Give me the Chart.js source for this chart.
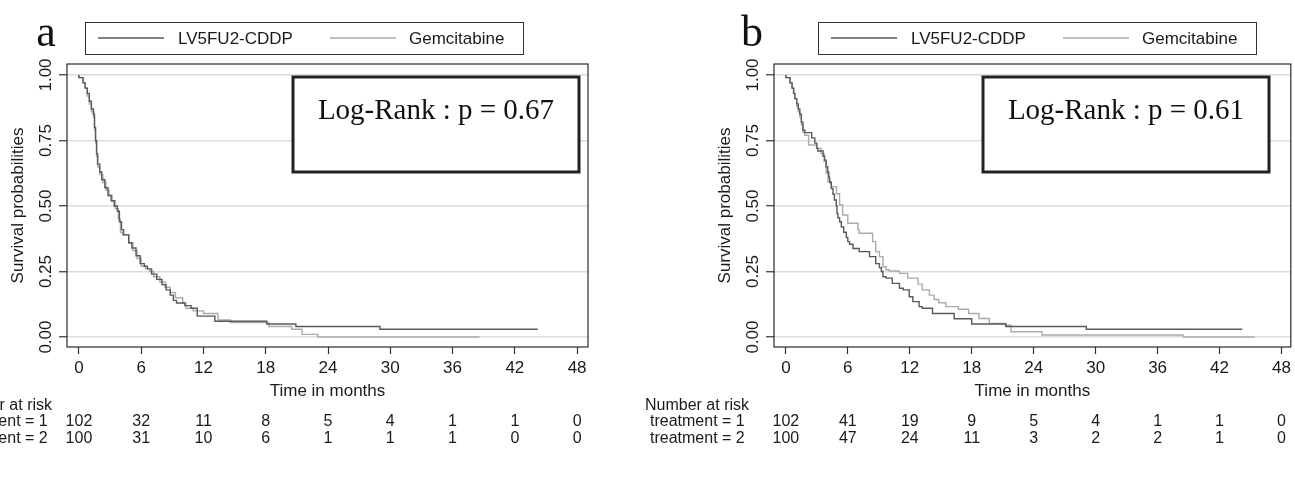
<!DOCTYPE html>
<html>
<head>
<meta charset="utf-8">
<script src="https://cdn.jsdelivr.net/npm/chart.js@4.4.1/dist/chart.umd.min.js"></script>
<style>
  html, body { margin: 0; padding: 0; background: #fff; }
  #wrap { position: relative; width: 1295px; height: 480px; overflow: hidden; }
  .panel { position: absolute; top: 0; height: 480px; }
  #panelA { left: 0; width: 620px; }
  #panelB { left: 620px; width: 675px; }
</style>
</head>
<body>
<div id="wrap">
  <div class="panel" id="panelA"><canvas id="chartA" width="620" height="480"></canvas></div>
  <div class="panel" id="panelB"><canvas id="chartB" width="675" height="480"></canvas></div>
</div>
<script>
// axis ticks
const timeTicks = [0, 6, 12, 18, 24, 30, 36, 42, 48];
const survTicks = [0, 0.25, 0.5, 0.75, 1];
const seriesNames = ['LV5FU2-CDDP', 'Gemcitabine'];
const riskRowNames = ['treatment = 1', 'treatment = 2'];

// panel a : KM steps (time in months, survival after the step)
const timeA1 = [0, 0.4, 0.6, 0.8, 1.0, 1.2, 1.4, 1.5, 1.6, 1.7, 1.8, 2.0, 2.2, 2.5, 2.8, 3.1, 3.4, 3.7, 3.9, 4.1, 4.3, 4.8, 5.1, 5.5, 5.9, 6.3, 6.6, 7.0, 7.5, 8.0, 8.4, 8.8, 9.1, 9.4, 10.2, 10.8, 11.4, 13.1, 18.1, 20.9, 29.0, 33.5, 44.2];
const survA1 = [1, 0.99, 0.97, 0.95, 0.93, 0.90, 0.87, 0.85, 0.80, 0.75, 0.70, 0.66, 0.63, 0.60, 0.57, 0.54, 0.52, 0.50, 0.48, 0.44, 0.41, 0.39, 0.36, 0.34, 0.31, 0.28, 0.27, 0.26, 0.24, 0.22, 0.20, 0.18, 0.16, 0.14, 0.13, 0.12, 0.11, 0.08, 0.06, 0.05, 0.04, 0.03, 0.03];
const timeA2 = [0, 0.4, 0.6, 0.8, 1.0, 1.2, 1.4, 1.5, 1.6, 1.7, 1.8, 2.0, 2.3, 2.6, 2.9, 3.2, 3.5, 3.8, 4.0, 4.2, 4.8, 5.2, 5.6, 6.0, 6.4, 6.8, 7.2, 7.8, 8.3, 8.8, 9.3, 10.0, 10.3, 11.0, 12.0, 13.4, 14.6, 18.3, 20.5, 21.5, 23.0, 38.6];
const survA2 = [1, 0.99, 0.97, 0.95, 0.92, 0.89, 0.86, 0.84, 0.79, 0.74, 0.69, 0.65, 0.62, 0.59, 0.56, 0.54, 0.52, 0.49, 0.45, 0.40, 0.39, 0.36, 0.33, 0.30, 0.27, 0.26, 0.25, 0.23, 0.21, 0.19, 0.17, 0.15, 0.13, 0.11, 0.10, 0.09, 0.065, 0.055, 0.04, 0.03, 0.01, 0];
const riskA1 = [102, 32, 11, 8, 5, 4, 1, 1, 0];
const riskA2 = [100, 31, 10, 6, 1, 1, 1, 0, 0];

// panel b
const timeB1 = [0, 0.4, 0.6, 0.75, 0.87, 1.05, 1.2, 1.35, 1.5, 1.65, 1.83, 2.5, 2.8, 3.0, 3.1, 3.6, 3.75, 3.9, 4.05, 4.15, 4.24, 4.4, 4.56, 4.7, 4.88, 4.95, 5.04, 5.2, 5.37, 5.6, 5.85, 6.0, 6.17, 6.5, 7.1, 8.1, 8.7, 9.06, 9.25, 9.4, 9.7, 10.3, 11.0, 11.37, 11.95, 12.3, 12.9, 13.2, 14.2, 16.3, 18.0, 21.3, 29.1, 33.5, 44.2];
const survB1 = [1, 0.99, 0.97, 0.95, 0.93, 0.91, 0.89, 0.87, 0.85, 0.82, 0.79, 0.78, 0.76, 0.74, 0.72, 0.71, 0.69, 0.675, 0.65, 0.63, 0.61, 0.59, 0.567, 0.545, 0.523, 0.50, 0.472, 0.455, 0.44, 0.42, 0.40, 0.38, 0.364, 0.354, 0.338, 0.326, 0.307, 0.28, 0.265, 0.25, 0.23, 0.225, 0.205, 0.186, 0.18, 0.154, 0.135, 0.116, 0.11, 0.09, 0.07, 0.05, 0.04, 0.03, 0.03];
const timeB2 = [0, 0.4, 0.6, 0.75, 0.87, 1.05, 1.2, 1.35, 1.5, 1.65, 1.83, 2.2, 2.96, 3.4, 3.7, 3.9, 4.08, 4.4, 4.9, 5.2, 5.5, 6.0, 6.97, 7.1, 8.4, 8.7, 9.06, 9.4, 9.7, 10.0, 11.0, 11.8, 12.8, 13.2, 13.9, 14.36, 14.8, 15.5, 16.7, 17.7, 18.7, 19.7, 21.3, 21.8, 24.8, 38.5, 45.4];
const survB2 = [1, 0.99, 0.97, 0.95, 0.93, 0.91, 0.88, 0.86, 0.84, 0.81, 0.78, 0.77, 0.733, 0.72, 0.70, 0.67, 0.625, 0.593, 0.574, 0.547, 0.504, 0.466, 0.434, 0.41, 0.396, 0.364, 0.326, 0.307, 0.268, 0.257, 0.252, 0.243, 0.225, 0.202, 0.18, 0.16, 0.143, 0.131, 0.116, 0.106, 0.09, 0.071, 0.052, 0.045, 0.02, 0.008, 0];
const riskB1 = [102, 41, 19, 9, 5, 4, 1, 1, 0];
const riskB2 = [100, 47, 24, 11, 3, 2, 2, 1, 0];

const sans = "'Liberation Sans', Arial, sans-serif";
const serif = "'Liberation Serif', 'Times New Roman', serif";
const darkLine = '#595959';
const lightLine = '#ababab';
const textCol = '#1a1a1a';

const kmExtras = {
  id: 'kmExtras',
  afterDraw(chart, args, o) {
    const ctx = chart.ctx;
    const a = chart.chartArea;
    const xs = chart.scales.x;
    const ys = chart.scales.y;
    ctx.save();

    // plot frame
    ctx.strokeStyle = '#2b2b2b';
    ctx.lineWidth = 1.2;
    ctx.strokeRect(a.left, a.top, a.right - a.left, a.bottom - a.top);

    // rotated y tick labels
    ctx.fillStyle = textCol;
    ctx.font = '17px ' + sans;
    ctx.textAlign = 'center';
    ctx.textBaseline = 'middle';
    survTicks.forEach(v => {
      ctx.save();
      ctx.translate(a.left - 21, ys.getPixelForValue(v));
      ctx.rotate(-Math.PI / 2);
      ctx.fillText(v.toFixed(2), 0, 0);
      ctx.restore();
    });

    // legend box
    const lx = o.legendLeft;
    ctx.fillStyle = '#fff';
    ctx.fillRect(lx, 22, 438, 32);
    ctx.strokeStyle = '#333';
    ctx.lineWidth = 1;
    ctx.strokeRect(lx + 0.5, 22.5, 438, 32);
    ctx.lineWidth = 1.4;
    ctx.strokeStyle = darkLine;
    ctx.beginPath(); ctx.moveTo(lx + 13, 38); ctx.lineTo(lx + 79, 38); ctx.stroke();
    ctx.strokeStyle = lightLine;
    ctx.beginPath(); ctx.moveTo(lx + 245, 38); ctx.lineTo(lx + 311, 38); ctx.stroke();
    ctx.fillStyle = textCol;
    ctx.textAlign = 'left';
    ctx.fillText(seriesNames[0], lx + 93, 39);
    ctx.fillText(seriesNames[1], lx + 324, 39);

    // log-rank box
    const bx = o.boxLeft;
    ctx.fillStyle = '#fff';
    ctx.fillRect(bx, 77, 286, 95);
    ctx.strokeStyle = '#222';
    ctx.lineWidth = 3;
    ctx.strokeRect(bx, 77, 286, 95);
    ctx.fillStyle = '#111';
    ctx.font = '29px ' + serif;
    ctx.textAlign = 'center';
    ctx.fillText(o.logRank, bx + 143, 111);

    // panel letter
    ctx.font = '44px ' + serif;
    ctx.textBaseline = 'alphabetic';
    ctx.fillText(o.letter, o.letterX, 46);

    // number at risk table
    ctx.font = '16px ' + sans;
    ctx.fillStyle = textCol;
    ctx.textBaseline = 'middle';
    ctx.textAlign = 'left';
    ctx.fillText('Number at risk', a.left + o.riskTitleDx, 406);
    ctx.fillText(riskRowNames[0], a.left + o.riskRowDx, 422);
    ctx.fillText(riskRowNames[1], a.left + o.riskRowDx, 439);
    ctx.textAlign = 'center';
    timeTicks.forEach((t, i) => {
      const px = xs.getPixelForValue(t);
      ctx.fillText(String(o.risk1[i]), px, 422);
      ctx.fillText(String(o.risk2[i]), px, 439);
    });
    ctx.restore();
  }
};

function toPoints(ts, ss) {
  return ts.map((t, i) => ({ x: t, y: ss[i] }));
}

function makeChart(id, cfg) {
  return new Chart(document.getElementById(id), {
    type: 'line',
    data: {
      datasets: [
        { label: seriesNames[0], data: toPoints(cfg.t1, cfg.s1), borderColor: darkLine, borderWidth: 1.4, stepped: 'after', pointRadius: 0, fill: false },
        { label: seriesNames[1], data: toPoints(cfg.t2, cfg.s2), borderColor: lightLine, borderWidth: 1.4, stepped: 'after', pointRadius: 0, fill: false }
      ]
    },
    options: {
      responsive: false,
      animation: false,
      layout: { padding: { left: cfg.padLeft, right: cfg.padRight, top: 64, bottom: 71 } },
      plugins: { legend: { display: false }, tooltip: { enabled: false }, kmExtras: cfg },
      scales: {
        x: {
          type: 'linear', min: -1.15, max: cfg.xMax,
          afterBuildTicks: s => { s.ticks = timeTicks.map(v => ({ value: v })); },
          afterFit: s => { s.height = 62; },
          grid: { drawOnChartArea: false, drawTicks: true, tickLength: 7, tickColor: '#333', tickWidth: 1.2 },
          border: { display: false },
          ticks: { font: { family: sans, size: 17 }, color: textCol, padding: 4, maxRotation: 0, autoSkip: false },
          title: { display: true, text: 'Time in months', font: { family: sans, size: 17 }, color: textCol, padding: { top: 0, bottom: 7 } }
        },
        y: {
          type: 'linear', min: -0.038, max: 1.042,
          afterBuildTicks: s => { s.ticks = survTicks.map(v => ({ value: v })); },
          afterFit: s => { s.width = 67; },
          grid: { color: '#dcdcdc', lineWidth: 1.5, drawTicks: true, tickLength: 8, tickColor: '#333', tickWidth: 1.2 },
          border: { display: false },
          ticks: { display: false },
          title: { display: true, text: 'Survival probabilities', font: { family: sans, size: 17 }, color: textCol, padding: { top: 8, bottom: 0 } }
        }
      }
    },
    plugins: [kmExtras]
  });
}

makeChart('chartA', {
  t1: timeA1, s1: survA1, t2: timeA2, s2: survA2, risk1: riskA1, risk2: riskA2,
  padLeft: 0, padRight: 32, xMax: 49.05,
  legendLeft: 85, boxLeft: 293, logRank: 'Log-Rank : p = 0.67',
  letter: 'a', letterX: 46, riskTitleDx: -119, riskRowDx: -114
});
makeChart('chartB', {
  t1: timeB1, s1: survB1, t2: timeB2, s2: survB2, risk1: riskB1, risk2: riskB2,
  padLeft: 87, padRight: 2, xMax: 48.9,
  legendLeft: 198, boxLeft: 363, logRank: 'Log-Rank : p = 0.61',
  letter: 'b', letterX: 132, riskTitleDx: -129, riskRowDx: -124
});
</script>
</body>
</html>
